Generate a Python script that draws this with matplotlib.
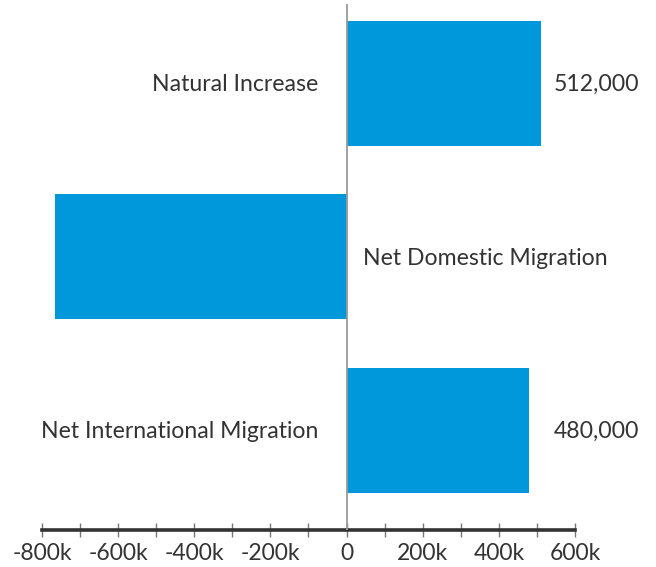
import matplotlib.pyplot as plt
from matplotlib.ticker import MultipleLocator, FuncFormatter

# Data
categories = ["Natural Increase", "Net Domestic Migration", "Net International Migration"]
values = [512000, -766000, 480000]
value_labels = ["512,000", "", "480,000"]

bar_color = "#0098DA"
text_color = "#333333"

plt.rcParams["font.family"] = ["Lato", "DejaVu Sans"]

fig = plt.figure(figsize=(6.56, 5.67), dpi=100)
ax = fig.add_axes([0.064, 0.0653, 0.8125, 0.9277])

y = list(range(len(categories)))
ax.barh(y, values, height=0.72, color=bar_color, zorder=2)

ax.set_xlim(-800000, 600000)
ax.set_ylim(2.576, -0.458)

# zero line
ax.axvline(0, color="#999999", linewidth=1.3, zorder=3)

# category labels on the opposite side of the bar
for i, (cat, v) in enumerate(zip(categories, values)):
    if v >= 0:
        ax.annotate(cat, (0, i), xytext=(-20.5, -1), textcoords="offset points",
                    ha="right", va="center", fontsize=16.6, color=text_color)
    else:
        ax.annotate(cat, (0, i), xytext=(11.5, -1), textcoords="offset points",
                    ha="left", va="center", fontsize=16.6, color=text_color)

# value labels aligned at a common x
label_x = max(values)
for i, lab in enumerate(value_labels):
    if lab:
        ax.annotate(lab, (label_x, i), xytext=(8.8, -1), textcoords="offset points",
                    ha="left", va="center", fontsize=16.6, color=text_color)

# axes styling
for side in ["top", "right", "left"]:
    ax.spines[side].set_visible(False)
ax.spines["bottom"].set_color(text_color)
ax.spines["bottom"].set_linewidth(2.6)
ax.set_yticks([])

ax.xaxis.set_major_locator(MultipleLocator(200000))
ax.xaxis.set_minor_locator(MultipleLocator(100000))
ax.xaxis.set_major_formatter(FuncFormatter(lambda v, p: "0" if v == 0 else f"{int(v/1000)}k"))
ax.tick_params(axis="x", which="both", direction="inout", length=9.5, width=1.0,
               color="#777777", labelsize=16.5, labelcolor=text_color, pad=4.5)

fig.savefig("out.png", dpi=100)
